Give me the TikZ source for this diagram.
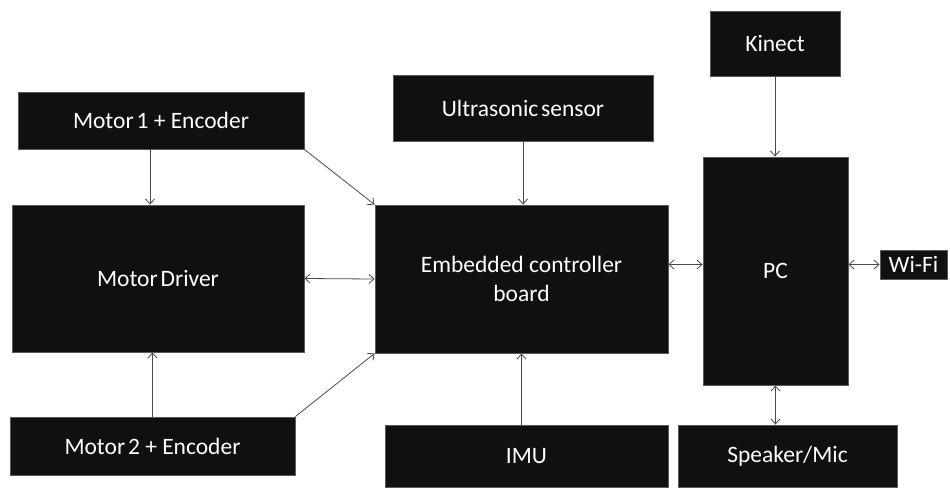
\documentclass[tikz,border=0pt]{standalone}
\usepackage{fontspec}
\setmainfont{Carlito}
\usetikzlibrary{arrows.meta,shadows}

\definecolor{boxfill}{HTML}{101010}
\definecolor{boxedge}{HTML}{5A5A5A}
\definecolor{wire}{HTML}{4A4A4A}

% narrow word gap used in a few labels
\newcommand{\nsp}{\hspace{0.12em}}

\tikzset{
  blk/.style={rectangle, fill=boxfill, draw=boxedge, line width=0.9pt,
    text=white, font=\fontsize{23.5}{29}\selectfont, align=center,
    inner sep=0pt, anchor=center,
    drop shadow={shadow xshift=1.2pt, shadow yshift=-1.2pt, opacity=0.35, fill=black!60}},
  arr/.style={draw=wire, line width=0.8pt, -{Straight Barb[length=5pt,width=9pt]}},
  dbl/.style={draw=wire, line width=0.8pt, {Straight Barb[length=5pt,width=9pt]}-{Straight Barb[length=5pt,width=9pt]}}
}

\begin{document}
\begin{tikzpicture}[x=1pt, y=-1pt]
  \useasboundingbox (0,0) rectangle (950,491);

  % blocks (centre, size)
  \node[blk, minimum width=286pt, minimum height=57pt]  (m1)   at (161,120.5)   {Motor\nsp1 + Encoder};
  \node[blk, minimum width=292pt, minimum height=147pt] (md)   at (158,278.5)   {Motor\nsp Driver};
  \node[blk, minimum width=285pt, minimum height=58pt]  (m2)   at (152.5,446)   {Motor\nsp2 + Encoder};
  \node[blk, minimum width=260pt, minimum height=66pt]  (us)   at (523,108)     {Ultrasonic\nsp sensor};
  \node[blk, minimum width=293pt, minimum height=148pt] (ecb)  at (521.5,279)   {Embedded controller\\board};
  \node[blk, minimum width=283pt, minimum height=62pt]  (imu)  at (526.5,456)   {IMU};
  \node[blk, minimum width=130pt, minimum height=65pt]  (kin)  at (775,43.5)    {Kinect};
  \node[blk, minimum width=145pt, minimum height=228pt] (pc)   at (775.5,271)   {PC};
  \node[blk, minimum width=67pt,  minimum height=29pt]  (wifi) at (913.5,264.5) {Wi-Fi};
  \node[blk, minimum width=219pt, minimum height=62pt]  (spk)  at (787.5,456)   {Speaker/Mic};

  % connectors
  \draw[arr] ([xshift=-11pt]m1.south) -- ([xshift=-11pt]m1.south |- md.north);
  \draw[arr] (m2.north) -- (m2.north |- md.south);
  \draw[dbl] (md.east) -- (ecb.west);
  \draw[arr] (m1.south east) -- (ecb.north west);
  \draw[arr] (m2.north east) -- (ecb.south west);
  \draw[arr] (us.south) -- (us.south |- ecb.north);
  \draw[arr] (ecb.south |- imu.north) -- (ecb.south);
  \draw[dbl] (ecb.east |- wifi.west) -- (pc.west |- wifi.west);
  \draw[dbl] (pc.east |- wifi.west) -- (wifi.west);
  \draw[arr] (kin.south) -- (kin.south |- pc.north);
  \draw[dbl] (pc.south) -- (pc.south |- spk.north);
\end{tikzpicture}
\end{document}
